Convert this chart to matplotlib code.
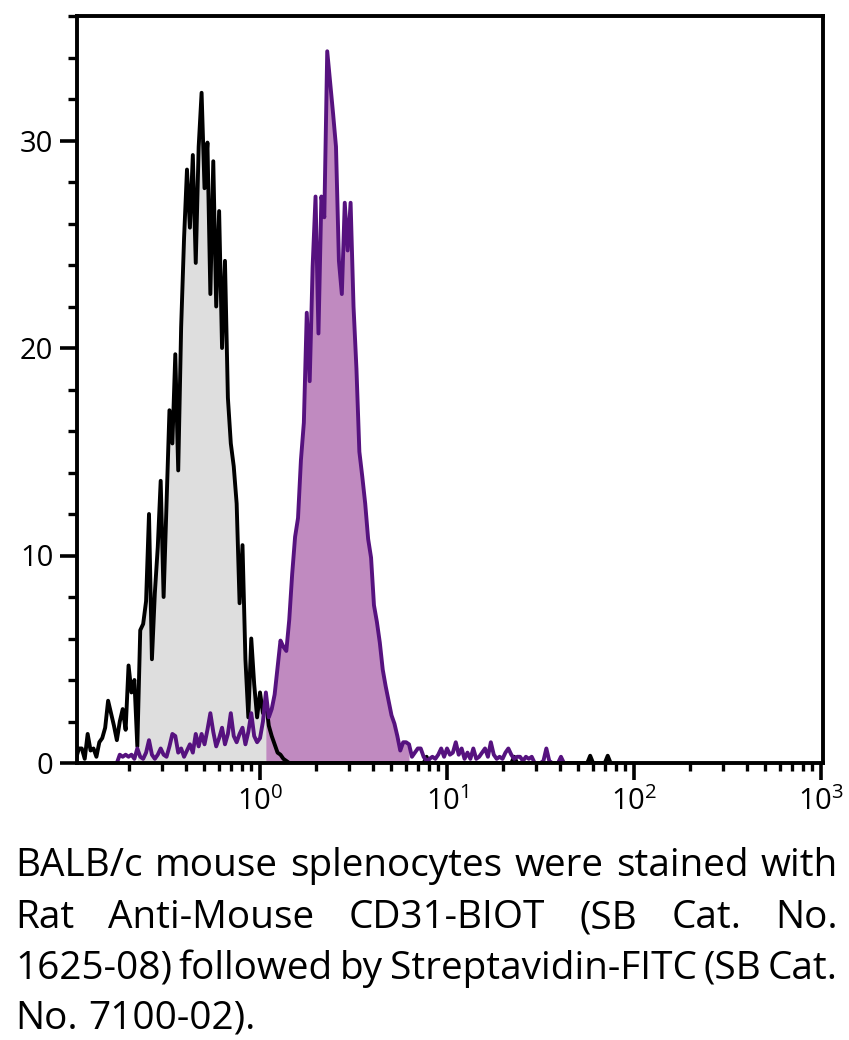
import numpy as np
import matplotlib.pyplot as plt
from matplotlib.ticker import FixedLocator, LogLocator, MultipleLocator, NullFormatter

plt.rcParams['font.family'] = ['Open Sans', 'DejaVu Sans']
plt.rcParams['mathtext.fontset'] = 'custom'
plt.rcParams['mathtext.rm'] = 'Open Sans'

# instrument channels: 64 per decade, channel 0 sits at 10^-1
chan_per_decade = 64
log_start = -1.0

# unstained control (grey)
gray_start = 1
gray_counts = [
    0.2, 0.7, 0.7, 0.2, 1.4, 0.6, 0.7, 0.3, 1.0, 1.2,
    1.7, 3.0, 2.4, 1.8, 1.1, 2.0, 2.6, 1.6, 4.7, 3.4,
    4.0, 0.8, 6.4, 6.7, 7.8, 12.0, 5.0, 8.2, 10.4, 13.6,
    8.0, 12.5, 17.0, 15.4, 19.7, 14.1, 21.0, 25.3, 28.6, 25.8,
    29.3, 24.1, 29.7, 32.3, 27.7, 29.9, 22.6, 29.0, 22.0, 26.6,
    20.0, 24.2, 17.6, 15.4, 14.3, 12.5, 7.7, 10.5, 5.0, 2.2,
    6.0, 3.8, 2.2, 3.4, 2.4, 3.0, 1.8, 1.3, 0.9, 0.5,
    0.4, 0.2, 0.1, 0.0,
]
gray_stray_chan = [121, 151, 177, 183]
gray_stray_val = [0.3, 0.3, 0.35, 0.35]
gray_gate = (22, 74)      # channels shaded grey

# CD31 stained (purple)
purple_start = 15
purple_counts = [
    0.0, 0.4, 0.3, 0.4, 0.3, 0.4, 0.2, 0.7, 0.3, 0.2,
    0.5, 1.1, 0.4, 0.2, 0.4, 0.7, 0.4, 0.3, 0.8, 1.4,
    1.3, 0.5, 0.7, 0.3, 0.6, 0.9, 0.5, 1.4, 0.8, 1.4,
    0.9, 1.6, 2.4, 1.5, 0.8, 1.2, 1.7, 0.9, 1.4, 2.4,
    1.3, 1.0, 1.4, 1.7, 0.9, 1.5, 2.4, 1.3, 1.0, 1.2,
    2.0, 3.4, 2.2, 2.6, 3.3, 4.6, 5.9, 5.6, 5.4, 6.9,
    9.1, 10.9, 11.8, 14.6, 16.4, 21.7, 18.4, 23.9, 27.3, 20.7,
    27.3, 26.3, 34.3, 32.8, 31.3, 29.7, 24.2, 22.6, 27.0, 24.7,
    27.0, 22.0, 19.0, 15.0, 13.8, 12.5, 10.8, 9.9, 7.6, 6.8,
    5.8, 4.5, 3.7, 3.0, 2.3, 1.9, 1.3, 0.6, 1.0, 1.0,
    0.9, 0.3, 0.5, 0.7, 0.7, 0.3, 0.1, 0.2, 0.3, 0.2,
    0.4, 0.7, 0.3, 0.7, 0.4, 0.5, 1.0, 0.4, 0.7, 0.2,
    0.5, 0.2, 0.7, 0.2, 0.3, 0.5, 0.7, 0.3, 1.0, 0.4,
    0.2, 0.3, 0.2, 0.5, 0.7, 0.4, 0.2, 0.3, 0.3, 0.1,
    0.3, 0.2, 0.3, 0.0, 0.0, 0.0, 0.1, 0.7, 0.1, 0.0,
    0.0, 0.0, 0.3, 0.0,
]
purple_gate = (66, 115)   # channels shaded purple

y_ticks = [0, 10, 20, 30]
x_ticks = [1, 10, 100, 1000]
x_tick_labels = [r'$\mathregular{10^{0}}$', r'$\mathregular{10^{1}}$',
                 r'$\mathregular{10^{2}}$', r'$\mathregular{10^{3}}$']

caption_lines = [
    'BALB/c mouse splenocytes were stained with',
    'Rat Anti-Mouse CD31-BIOT (SB Cat. No.',
    '1625-08) followed by Streptavidin-FITC (SB Cat.',
    'No. 7100-02).',
]


def chan_to_x(ch):
    return 10 ** (log_start + np.asarray(ch, dtype=float) / chan_per_decade)


gray = np.zeros(max(gray_stray_chan) + 2 - gray_start)
gray[:len(gray_counts)] = gray_counts
for c, v in zip(gray_stray_chan, gray_stray_val):
    gray[c - gray_start] = v
gray_ch = np.arange(len(gray)) + gray_start
gray_x = chan_to_x(gray_ch)

purple = np.array(purple_counts)
purple_ch = np.arange(len(purple)) + purple_start
purple_x = chan_to_x(purple_ch)

W, H = 849, 1040
fig = plt.figure(figsize=(W / 100, H / 100), dpi=100)
ax = fig.add_axes([77 / W, 1 - 763 / H, (823 - 77) / W, (763 - 16) / H])

g_in = (gray_ch >= gray_gate[0]) & (gray_ch <= gray_gate[1])
ax.fill_between(gray_x[g_in], 0, gray[g_in], color='#dedede', lw=0)
ax.plot(gray_x, gray, color='black', lw=2.8)
p_in = (purple_ch >= purple_gate[0]) & (purple_ch <= purple_gate[1])
ax.fill_between(purple_x[p_in], 0, purple[p_in], color='#c08ac0', lw=0)
ax.plot(purple_x, purple, color='#56127f', lw=2.8)

ax.set_xscale('log')
ax.set_xlim(0.105, 1025)
ax.set_ylim(0, 36)

ax.xaxis.set_major_locator(FixedLocator(x_ticks))
ax.set_xticklabels(x_tick_labels)
ax.xaxis.set_minor_locator(LogLocator(base=10, subs=np.arange(2, 10)))
ax.xaxis.set_minor_formatter(NullFormatter())
ax.yaxis.set_major_locator(FixedLocator(y_ticks))
ax.set_yticklabels([str(v) for v in y_ticks])
ax.yaxis.set_minor_locator(MultipleLocator(2))

ax.tick_params(axis='both', which='major', direction='out', width=2.6,
               length=12, labelsize=21, color='black')
ax.tick_params(axis='x', which='major', pad=5)
ax.tick_params(axis='y', which='major', pad=5)
ax.tick_params(axis='x', which='minor', direction='out', width=2.4, length=5.5)
ax.tick_params(axis='y', which='minor', direction='out', width=2.4, length=6.5)
for s in ax.spines.values():
    s.set_linewidth(2.8)
    s.set_color('black')

# justified caption under the plot
left, right = 15, 838
baselines = [876, 928, 979, 1029]
fig.canvas.draw()
r = fig.canvas.get_renderer()


def text_w(s, size):
    t = fig.text(0, 0, s, fontsize=size)
    w = t.get_window_extent(r).width
    t.remove()
    return w


# size the font so that the first line just fills the width
cap_size = 20.0
cap_size *= (right - left) * 0.985 / text_w(caption_lines[0], cap_size)
space_w = text_w('a b', cap_size) - text_w('ab', cap_size)
for n, (line, base) in enumerate(zip(caption_lines, baselines)):
    words = line.split(' ')
    widths = [text_w(w, cap_size) for w in words]
    if n < len(caption_lines) - 1:
        gap = (right - left - sum(widths)) / (len(words) - 1)
    else:
        gap = space_w
    x = left
    for w, ww in zip(words, widths):
        fig.text(x / W, 1 - base / H, w, fontsize=cap_size, va='baseline', ha='left')
        x += ww + gap

fig.savefig('out.png', dpi=100)
